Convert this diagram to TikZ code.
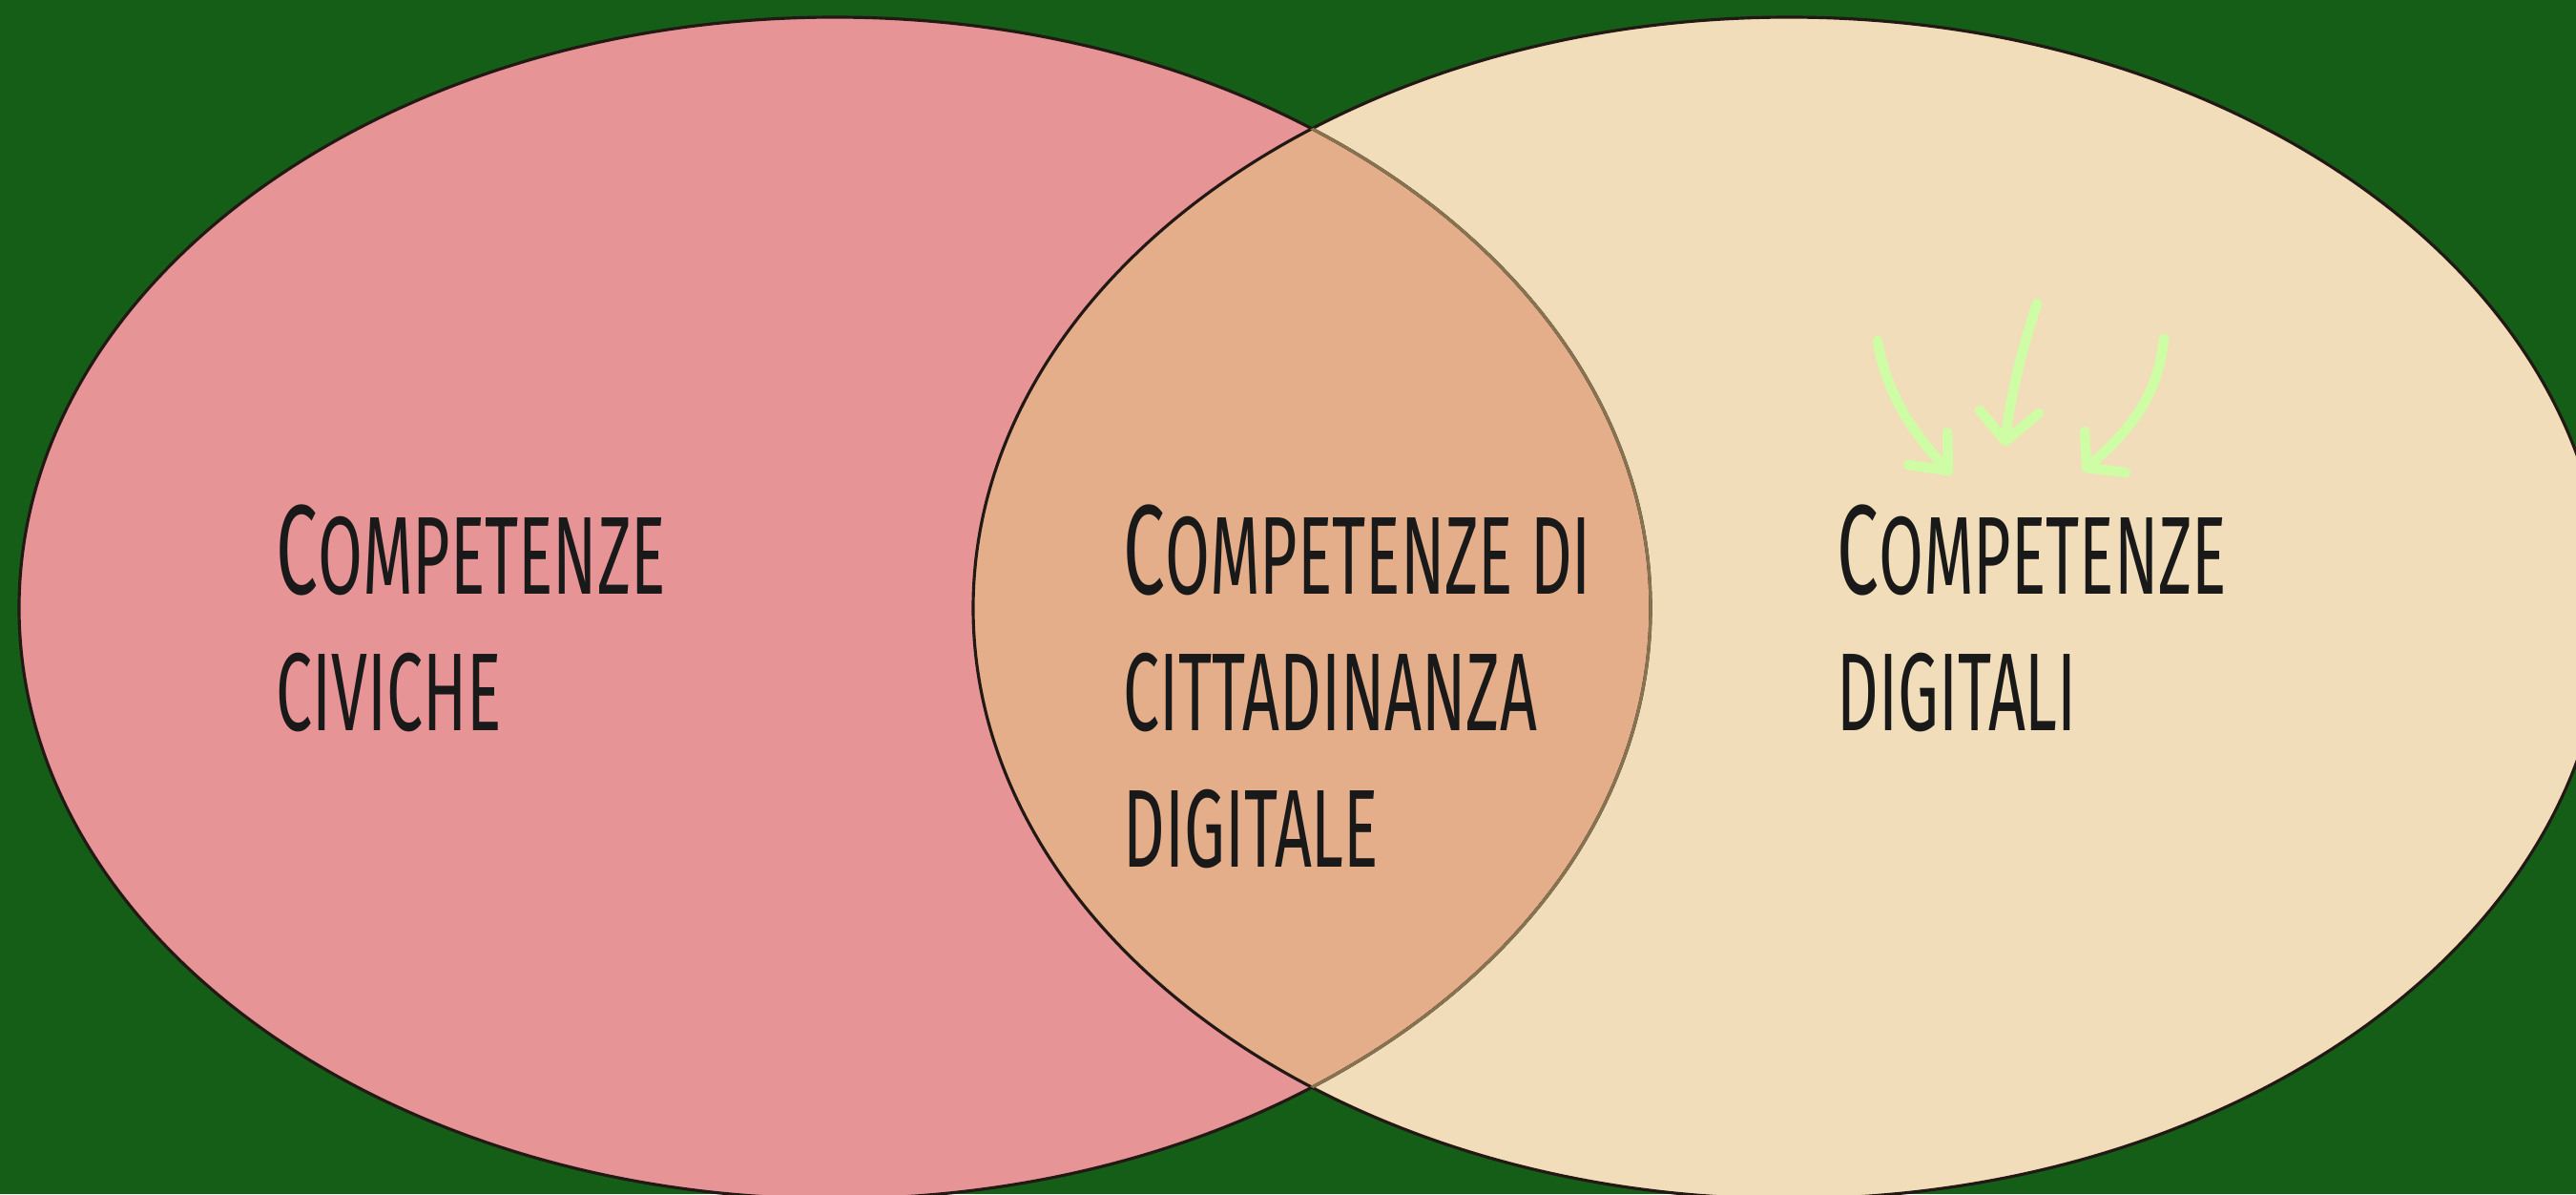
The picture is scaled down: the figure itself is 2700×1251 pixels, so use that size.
\documentclass[tikz,border=0pt]{standalone}
\usepackage{fontspec}
\usepackage{tikz}
\newfontfamily\handfont[FakeStretch=0.585]{Fira Sans}
\newcommand\initcap[1]{{\fontsize{38pt}{40.7pt}\selectfont #1}}
\definecolor{bggreen}{RGB}{21,94,24}
\definecolor{pinkset}{RGB}{231,148,151}
\definecolor{creamset}{RGB}{241,221,185}
\definecolor{lensset}{RGB}{228,174,138}
\definecolor{arrowgreen}{RGB}{207,253,166}
\definecolor{rimdark}{RGB}{35,25,20}
\definecolor{rimbrown}{RGB}{135,115,80}

\begin{document}
\begin{tikzpicture}[x=0.01cm,y=-0.01cm,
  lbl/.style={inner sep=0pt, align=left, text=black!90,
    font={\handfont\fontsize{33pt}{40.7pt}\selectfont}},
  doodle/.style={draw=arrowgreen, line width=3pt, line cap=round, line join=round},
  rim/.style={line width=0.9pt}]
\useasboundingbox (0,0) rectangle (2700,1251);
\fill[bggreen] (0,0) rectangle (2700,1251);
%insiemi
\fill[pinkset] (875,637) ellipse [x radius=855, y radius=619];
\fill[creamset] (1875,637) ellipse [x radius=855, y radius=619];
\begin{scope}
\clip (875,637) ellipse [x radius=855, y radius=619];
\fill[lensset] (1875,637) ellipse [x radius=855, y radius=619];
\end{scope}
\draw[rim, draw=rimdark] (875,637) ellipse [x radius=855, y radius=619];
\draw[rim, draw=rimdark] (1875,637) ellipse [x radius=855, y radius=619];
\begin{scope}
\clip (1875,637) ellipse [x radius=855, y radius=619];
\draw[rim, draw=rimbrown] (875,637) ellipse [x radius=855, y radius=619];
\end{scope}
%frecce
\draw[doodle] (1968,357) .. controls (1976,410) and (2005,455) .. (2042,493);
\draw[doodle] (2041,453) -- (2042,493) -- (2000,487);
\draw[doodle] (2135,318) .. controls (2118,370) and (2106,420) .. (2102,462);
\draw[doodle] (2075,430) -- (2102,462) -- (2137,433);
\draw[doodle] (2268,355) .. controls (2262,420) and (2225,458) .. (2187,490);
\draw[doodle] (2185,452) -- (2187,490) -- (2228,495);
%testi
\node[lbl, anchor=north west] (civiche) at (289,528) {\initcap{C}OMPETENZE\\CIVICHE};
\node[lbl, anchor=north west] (cittadinanza) at (1177,528) {\initcap{C}OMPETENZE DI\\CITTADINANZA\\DIGITALE};
\node[lbl, anchor=north west] (digitali) at (1925,528) {\initcap{C}OMPETENZE\\DIGITALI};
\end{tikzpicture}
\end{document}
